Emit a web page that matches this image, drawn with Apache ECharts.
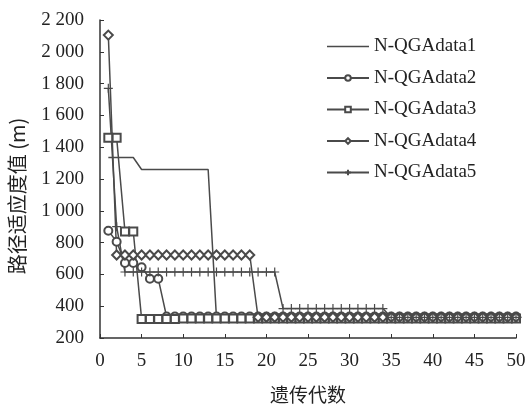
<!DOCTYPE html>
<html>
<head>
<meta charset="utf-8">
<script src="https://cdn.jsdelivr.net/npm/echarts@6/dist/echarts.min.js"></script>
<style>
  html, body { margin: 0; padding: 0; background: #fff; }
  #chart { width: 526px; height: 407px; }
</style>
</head>
<body>
<div id="chart"></div>
<script>
// 遗传代数 1..50
const generations = [1,2,3,4,5,6,7,8,9,10,11,12,13,14,15,16,17,18,19,20,21,22,23,24,25,26,27,28,29,30,31,32,33,34,35,36,37,38,39,40,41,42,43,44,45,46,47,48,49,50]

// 各组数据的路径适应度值 (m)
const data1 = [1335,1335,1335,1335,1260,1260,1260,1260,1260,1260,1260,1260,1260,325,325,325,325,325,325,325,325,325,325,325,325,325,325,325,325,325,325,325,325,325,325,325,325,325,325,325,325,325,325,325,325,325,325,325,325,325]
const data2 = [875,805,672,672,645,573,573,335,335,335,335,335,335,335,335,335,335,335,335,335,335,335,335,335,335,335,335,335,335,335,335,335,335,335,335,335,335,335,335,335,335,335,335,335,335,335,335,335,335,335]
const data3 = [1460,1460,870,870,320,320,320,320,320,322,322,322,322,322,322,322,322,322,322,322,322,322,322,322,322,322,322,322,322,322,322,322,322,322,322,322,322,322,322,322,322,322,322,322,322,322,322,322,322,322]
const data4 = [2105,722,722,722,722,722,722,722,722,722,722,722,722,722,722,722,722,722,330,330,330,330,330,330,330,330,330,330,330,330,330,330,330,330,330,330,330,330,330,330,330,330,330,330,330,330,330,330,330,330]
const data5 = [1770,900,615,615,615,615,615,615,615,615,615,615,615,615,615,615,615,615,615,615,615,385,385,385,385,385,385,385,385,385,385,385,385,385,330,330,330,330,330,330,330,330,330,330,330,330,330,330,330,330]

const seriesNames = ['N-QGAdata1', 'N-QGAdata2', 'N-QGAdata3', 'N-QGAdata4', 'N-QGAdata5']
const seriesValues = [data1, data2, data3, data4, data5]
const seriesSymbols = ['none', 'emptyCircle', 'emptyRect', 'emptyDiamond', 'path://M5,0L5,10M0,5L10,5']
const seriesSymbolSizes = [0, 8, 8, 9, 9]

const lineColor = '#4a4a4a'
const serifFont = '"Liberation Serif", "Times New Roman", serif'
const cjkFont = '"Noto Sans CJK SC", sans-serif'

const chart = echarts.init(document.getElementById('chart'))

chart.setOption({
  animation: false,
  grid: {
    left: 100,
    right: 10,
    top: 20,
    bottom: 69,
    outerBoundsMode: 'none'
  },
  legend: {
    orient: 'vertical',
    left: 321,
    top: 32,
    itemWidth: 42,
    itemHeight: 7,
    itemGap: 12.5,
    // 第一组只有线，没有标记
    data: seriesNames.map((name, i) => i === 0
      ? { name: name, icon: 'path://M0,0L0,7M0,2.8L42,2.8L42,4.3L0,4.3Z', itemStyle: { borderWidth: 0 } }
      : { name: name }),
    textStyle: {
      fontFamily: serifFont,
      fontSize: 19,
      color: '#222'
    }
  },
  xAxis: {
    type: 'value',
    min: 0,
    max: 50,
    interval: 5,
    name: '遗传代数',
    nameLocation: 'middle',
    nameGap: 47,
    nameTextStyle: {
      fontFamily: cjkFont,
      fontSize: 19,
      color: '#222'
    },
    axisLine: { lineStyle: { color: '#333', width: 1.5 } },
    axisTick: { inside: true, length: 4, lineStyle: { color: '#333' } },
    axisLabel: {
      fontFamily: serifFont,
      fontSize: 19,
      color: '#222',
      margin: 14
    },
    splitLine: { show: false }
  },
  yAxis: {
    type: 'value',
    min: 200,
    max: 2200,
    interval: 200,
    name: '路径适应度值 (m)',
    nameLocation: 'middle',
    nameGap: 73,
    nameTextStyle: {
      fontFamily: cjkFont,
      fontSize: 20,
      color: '#222',
      padding: [0, 34, 0, 0]
    },
    axisLine: { show: true, lineStyle: { color: '#333', width: 1.5 } },
    axisTick: { show: true, inside: true, length: 4, lineStyle: { color: '#333' } },
    axisLabel: {
      fontFamily: serifFont,
      fontSize: 19,
      color: '#222',
      margin: 16,
      formatter: v => String(v).replace(/\B(?=(\d{3})+(?!\d))/g, ' ')
    },
    splitLine: { show: false }
  },
  series: seriesNames.map((name, i) => ({
    name: name,
    type: 'line',
    data: generations.map((g, j) => [g, seriesValues[i][j]]),
    symbol: seriesSymbols[i],
    symbolSize: seriesSymbolSizes[i],
    showSymbol: i > 0,
    lineStyle: { color: lineColor, width: 1.5 },
    itemStyle: { color: lineColor, borderColor: lineColor, borderWidth: 1.2 }
  }))
})
</script>
</body>
</html>
